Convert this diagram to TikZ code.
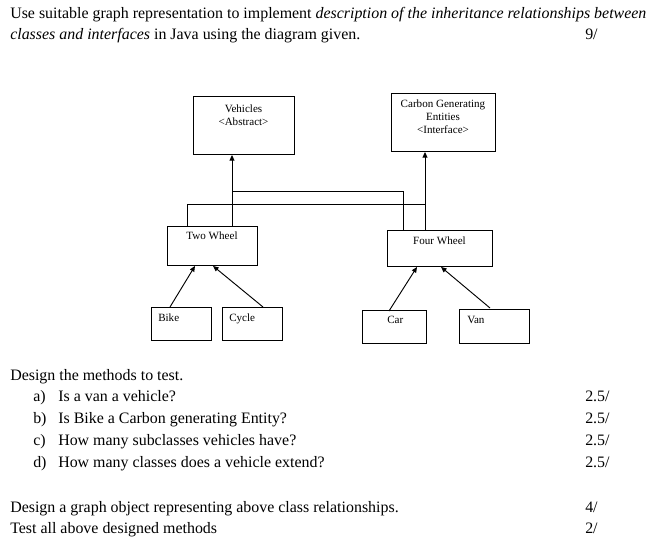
\documentclass[tikz,border=0pt]{standalone}
\usepackage{fontspec}
\setmainfont{Liberation Serif}
\usetikzlibrary{arrows.meta,calc}
\begin{document}
\begin{tikzpicture}[x=0.75pt,y=-0.75pt,
  txt/.style={anchor=base west,inner sep=0pt,font=\fontsize{11.95}{14}\selectfont},
  box/.style={draw,line width=0.7pt,rectangle,inner sep=0pt,anchor=north west},
  btxt/.style={inner sep=0pt,font=\fontsize{8.3}{9.75}\selectfont,align=center},
  ln/.style={line width=0.7pt},
  arr/.style={line width=0.7pt,-{Triangle[length=4.2pt,width=3.6pt]}}]
\useasboundingbox (0,0) rectangle (658,553);
% header text
\node[txt] (h1) at (10,18) {Use suitable graph representation to implement \textit{description of the inheritance relationships between}};
\node[txt] (h2) at (10,39) {\textit{classes and interfaces} in Java using the diagram given.};
\node[txt] (s0) at (585,39) {9/};
% boxes
\node[box,minimum width=101*0.75pt,minimum height=58*0.75pt] (veh) at (193,96) {};
\node[btxt,anchor=base] (vehT) at (243.5,125) {Vehicles\\<Abstract>};
\node[box,minimum width=104*0.75pt,minimum height=58*0.75pt] (cge) at (391,93) {};
\node[btxt,anchor=base] (cgeT) at (443,133) {Carbon Generating\\Entities\\<Interface>};
\node[box,minimum width=90*0.75pt,minimum height=39*0.75pt] (tw) at (167,226) {};
\node[btxt,anchor=base] (twT) at (212,239) {Two Wheel};
\node[box,minimum width=105*0.75pt,minimum height=36*0.75pt] (fw) at (387,230) {};
\node[btxt,anchor=base] (fwT) at (439.5,244) {Four Wheel};
\node[box,minimum width=60*0.75pt,minimum height=33*0.75pt] (bike) at (151,307) {};
\node[btxt,anchor=base west] (bikeT) at (158,321) {Bike};
\node[box,minimum width=60*0.75pt,minimum height=33*0.75pt] (cyc) at (222,307) {};
\node[btxt,anchor=base west] (cycT) at (229,321) {Cycle};
\node[box,minimum width=64*0.75pt,minimum height=33*0.75pt] (car) at (362,310) {};
\node[btxt,anchor=base west] (carT) at (387,323) {Car};
\node[box,minimum width=70*0.75pt,minimum height=34*0.75pt] (van) at (459,309) {};
\node[btxt,anchor=base west] (vanT) at (467,323) {Van};
% junctions
\coordinate (j1) at (232,191);
\coordinate (j2) at (403,191);
\coordinate (k1) at (425,204);
\coordinate (k2) at (187,204);
\draw[arr] (tw.north -| j1) -- (veh.south -| j1);
\draw[ln] (j1) -- (j2) -- (j2 |- fw.north);
\draw[arr] (fw.north -| k1) -- (cge.south -| k1);
\draw[ln] (k1) -- (k2) -- (k2 |- tw.north);
% lower arrows
\draw[arr] ($(bike.north west)+(19,0)$) -- ($(tw.south west)+(28,0)$);
\draw[arr] ($(cyc.north west)+(41,0)$) -- ($(tw.south west)+(46,0)$);
\draw[arr] ($(car.north west)+(27,1)$) -- ($(fw.south west)+(30,0)$);
\draw[arr] ($(van.north west)+(31,-1)$) -- ($(fw.south west)+(54,0)$);
% questions
\node[txt] (q0) at (10,380) {Design the methods to test.};
\node[txt] (qa) at (33,401) {a)};
\node[txt] (qat) at (58,401) {Is a van a vehicle?};
\node[txt] (qb) at (33,423) {b)};
\node[txt] (qbt) at (58,423) {Is Bike a Carbon generating Entity?};
\node[txt] (qc) at (33,445) {c)};
\node[txt] (qct) at (58,445) {How many subclasses vehicles have?};
\node[txt] (qd) at (33,467) {d)};
\node[txt] (qdt) at (58,467) {How many classes does a vehicle extend?};
\node[txt] (sa) at (585,401) {2.5/};
\node[txt] (sb) at (585,423) {2.5/};
\node[txt] (sc) at (585,445) {2.5/};
\node[txt] (sd) at (585,467) {2.5/};
\node[txt] (g1) at (10,512) {Design a graph object representing above class relationships.};
\node[txt] (g2) at (10,533) {Test all above designed methods};
\node[txt] (se) at (585,512) {4/};
\node[txt] (sf) at (585,533) {2/};
\end{tikzpicture}
\end{document}
